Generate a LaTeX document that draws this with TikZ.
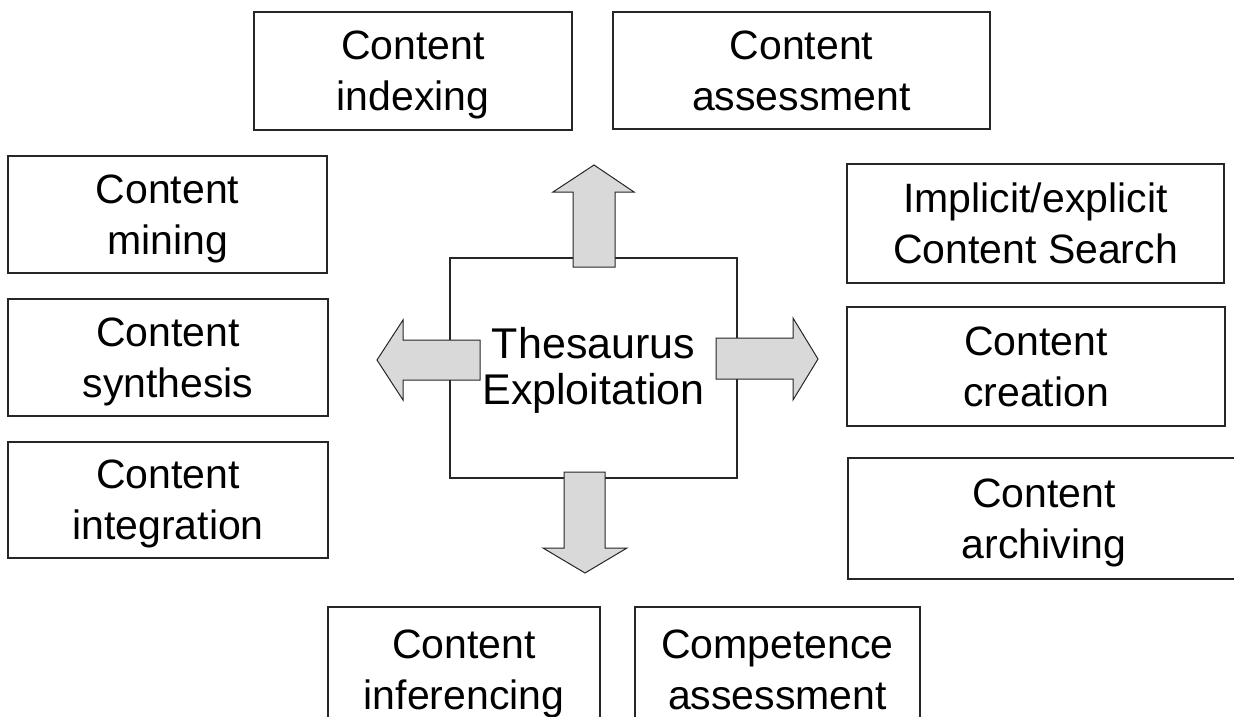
\documentclass[tikz,border=0pt]{standalone}
\usepackage{fontspec}
\setmainfont{Liberation Sans}
\usepackage{tikz}
\usepackage{xcolor}
\usetikzlibrary{positioning, calc}

\begin{document}
\begin{tikzpicture}[x=1pt, y=-1pt,
    box/.style={draw=black!85, line width=1.4pt, fill=white, align=center, inner sep=0pt,
                font=\fontsize{41}{51}\selectfont, text depth=0pt},
    hub/.style={draw=black!85, line width=1.2pt, align=center, inner sep=0pt,
                minimum width=287pt, minimum height=220pt},
    blockarrow/.style={draw=black!85, line width=1pt, fill=gray!30, line join=miter}]
    % Page size of the scanned figure
    \useasboundingbox (0,0) rectangle (1234,717);
    \clip (0,0) rectangle (1234,717);

    % Top row
    \node[box, minimum width=318pt, minimum height=118pt] (indexing) at (413,71) {Content\\indexing};
    \node[box, minimum width=377pt, minimum height=117pt] (assessment) at (801.5,70.5) {Content\\assessment};

    % Left column
    \node[box, minimum width=319pt, minimum height=117pt] (mining) at (167.5,214.5) {Content\\mining};
    \node[box, minimum width=320pt, minimum height=117pt] (synthesis) at (168,357.5) {Content\\synthesis};
    \node[box, minimum width=320pt, minimum height=116pt] (integration) at (168,500) {Content\\integration};

    % Right column
    \node[box, minimum width=377pt, minimum height=119pt] (search) at (1035.5,223.5) {Implicit/explicit\\Content Search};
    \node[box, minimum width=378pt, minimum height=119pt] (creation) at (1036,366.5) {Content\\creation};
    \node[box, minimum width=392pt, minimum height=121pt] (archiving) at (1044,518.5) {Content\\archiving};

    % Bottom row (cut off by the page edge)
    \node[box, minimum width=272pt, minimum height=125pt] (inferencing) at (464,669.5) {Content\\inferencing};
    \node[box, minimum width=285pt, minimum height=125pt] (competence) at (777.5,669.5) {Competence\\assessment};

    % Centre box
    \node[hub] (thesaurus) at (593.5,368) {};

    % Block arrows out of the centre box
    \draw[blockarrow] (573,267) -- (573,192) -- (553,192) -- (594,165) -- (634,192) -- (615,192) -- (615,267) -- cycle;
    \draw[blockarrow] (564,472) -- (564,548) -- (543,548) -- (585,573) -- (627,548) -- (605,548) -- (605,472) -- cycle;
    \draw[blockarrow] (480,340) -- (403,340) -- (403,320) -- (377,360) -- (403,400) -- (403,380) -- (480,380) -- cycle;
    \draw[blockarrow] (716,338) -- (793,338) -- (793,318) -- (818,359) -- (793,400) -- (793,379) -- (716,379) -- cycle;

    \node[align=center, font=\fontsize{43}{46}\selectfont] (label) at ([yshift=-2pt]thesaurus.center) {Thesaurus\\Exploitation};
\end{tikzpicture}
\end{document}
